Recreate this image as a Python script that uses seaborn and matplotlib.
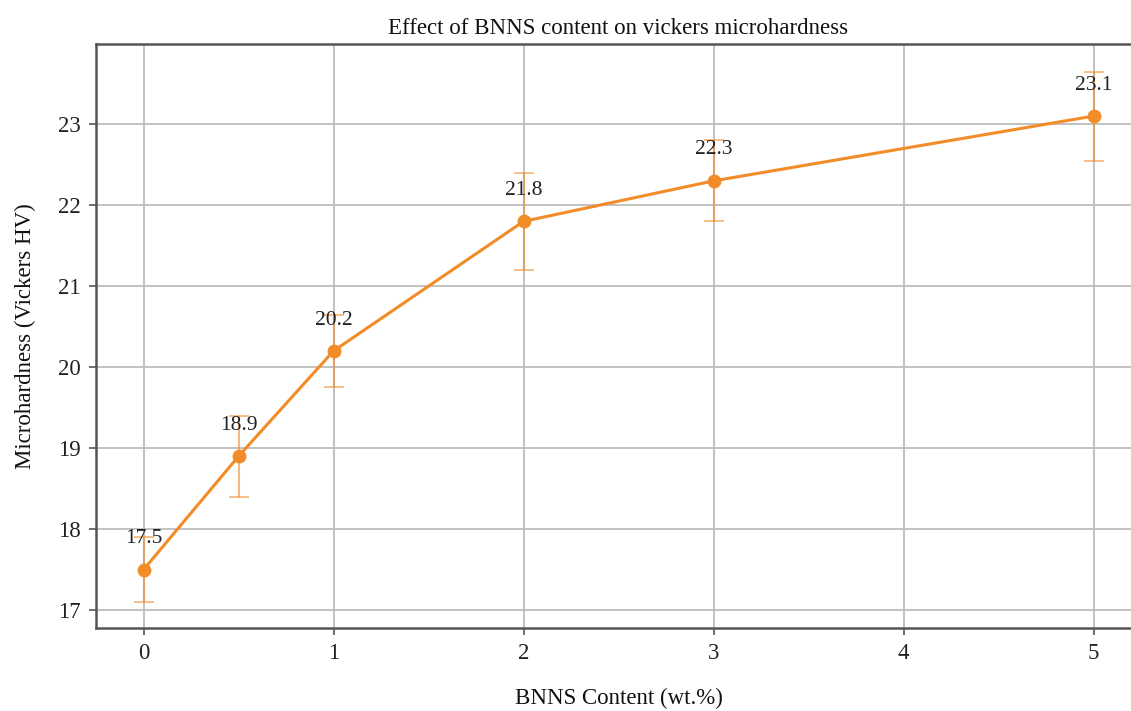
import matplotlib
matplotlib.use("Agg")
import matplotlib.pyplot as plt
import seaborn as sns
import pandas as pd

# BNNS loading (wt.%) and measured Vickers microhardness
bnns_content = [0, 0.5, 1, 2, 3, 5]
hardness = [17.5, 18.9, 20.2, 21.8, 22.3, 23.1]
hardness_err = [0.4, 0.5, 0.45, 0.6, 0.5, 0.55]
x_ticks = [0, 1, 2, 3, 4, 5]
y_ticks = [17, 18, 19, 20, 21, 22, 23]

df = pd.DataFrame({"content": bnns_content, "hv": hardness, "err": hardness_err})

sns.set_theme(style="whitegrid")
plt.rcParams["font.family"] = ["Liberation Serif", "DejaVu Serif"]

fig = plt.figure(figsize=(11.31, 7.11), dpi=100)
ax = fig.add_axes([96 / 1131, 1 - 628 / 711, (1141 - 96) / 1131, (628 - 44) / 711])

orange = "#F28C28"

ax.errorbar(df["content"], df["hv"], yerr=df["err"], fmt="none",
            ecolor=orange, alpha=0.6, elinewidth=1.5, capsize=7, capthick=1.3, zorder=2)
sns.lineplot(data=df, x="content", y="hv", ax=ax, color=orange, linewidth=2.2,
             marker="o", markersize=10, markeredgewidth=0, zorder=3)

for xv, yv in zip(df["content"], df["hv"]):
    ax.annotate(f"{yv}", (xv, yv), xytext=(0, 19), textcoords="offset points",
                ha="center", va="baseline", fontsize=15.5, color="#222222")

ax.set_xlim(-0.25, 5.25)
ax.set_ylim(16.78, 23.99)
ax.set_xticks(x_ticks)
ax.set_yticks(y_ticks)

ax.grid(True, color="#BDBDBD", linewidth=1.3)
for side in ["left", "bottom", "top", "right"]:
    ax.spines[side].set_color("#555555")
    ax.spines[side].set_linewidth(1.8)
ax.tick_params(axis="both", which="major", length=5, width=1.2, color="#555555",
               labelsize=16.5, labelcolor="#222222", bottom=True, left=True, pad=6)

ax.set_title("Effect of BNNS content on vickers microhardness", fontsize=16.5, pad=7, color="#111111")
ax.set_xlabel("BNNS Content (wt.%)", fontsize=16.5, labelpad=17, color="#111111")
ax.set_ylabel("Microhardness (Vickers HV)", fontsize=16.5, labelpad=16, color="#111111")

fig.savefig("out.png", dpi=100)
